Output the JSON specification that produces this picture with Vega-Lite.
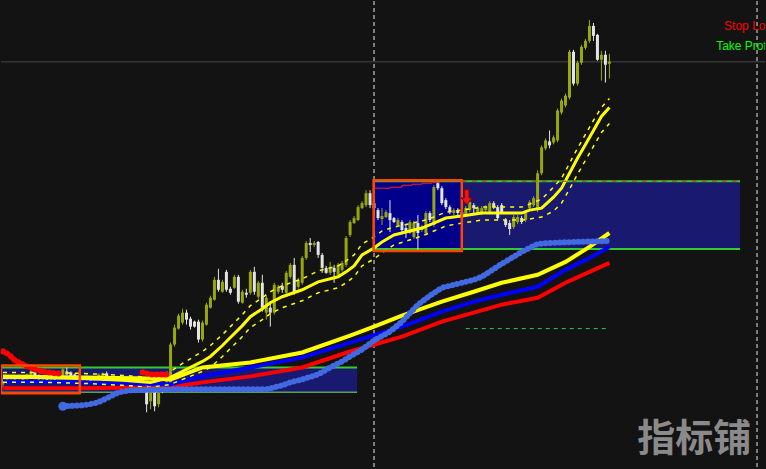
{
"$schema": "https://vega.github.io/schema/vega-lite/v6.json",
"width": 766, "height": 469,
"autosize": {"type": "fit", "contains": "padding"},
"padding": 0,
"background": "#131313",
"config": {"view": {"stroke": null}},
"datasets": {
"zones": [{"a":-0.5,"b":88.75,"lo":76,"hi":101},{"a":93,"b":184.75,"lo":220,"hi":288}],
"entry": [{"a":93,"b":115,"lo":220,"hi":288}],
"lv_upper": [{"a":-0.5,"b":88.75,"p":101},{"a":93,"b":184.75,"p":288},{"a":93,"b":184.75,"p":220}],
"lv_lower": [{"a":-0.5,"b":88.75,"p":76}],
"grayline": [{"p":408}],
"vlines": [{"i":93},{"i":189}],
"gdash": [{"a":116,"b":151.25,"p":140}],
"candles": [
{"i":0,"o":84,"h":91,"l":81,"c":89},{"i":1,"o":90,"h":91,"l":85,"c":86},{"i":2,"o":87,"h":92,"l":86,"c":91},{"i":3,"o":92,"h":93,"l":87,"c":88},{"i":4,"o":89,"h":94,"l":88,"c":93},{"i":5,"o":92,"h":93,"l":86,"c":87},{"i":6,"o":89,"h":95,"l":88,"c":94},{"i":7,"o":92,"h":99,"l":90,"c":97},{"i":8,"o":97,"h":99,"l":89,"c":91},{"i":9,"o":93,"h":94,"l":88,"c":89},
{"i":10,"o":88,"h":93,"l":87,"c":92},{"i":11,"o":91,"h":92,"l":86,"c":87},{"i":12,"o":88,"h":93,"l":87,"c":92},{"i":13,"o":93,"h":94,"l":88,"c":89},{"i":14,"o":90,"h":95,"l":89,"c":94},{"i":15,"o":93,"h":101,"l":91,"c":99},{"i":16,"o":97,"h":101,"l":93,"c":94},{"i":17,"o":96,"h":97,"l":90,"c":91},{"i":18,"o":94,"h":95,"l":89,"c":90},{"i":19,"o":89,"h":94,"l":88,"c":93},
{"i":20,"o":91,"h":92,"l":87,"c":88},{"i":21,"o":88,"h":93,"l":87,"c":92},{"i":22,"o":91,"h":92,"l":86,"c":87},{"i":23,"o":88,"h":92,"l":87,"c":91},{"i":24,"o":90,"h":95,"l":89,"c":94},{"i":25,"o":92,"h":96,"l":91,"c":95},{"i":26,"o":95,"h":97,"l":90,"c":91},{"i":27,"o":89,"h":90,"l":84,"c":85},{"i":28,"o":85,"h":89,"l":84,"c":88},{"i":29,"o":88,"h":89,"l":84,"c":85},
{"i":30,"o":85,"h":89,"l":84,"c":88},{"i":31,"o":89,"h":90,"l":85,"c":86},{"i":32,"o":88,"h":89,"l":84,"c":85},{"i":33,"o":85,"h":89,"l":84,"c":88},{"i":34,"o":89,"h":90,"l":84,"c":85},{"i":35,"o":85,"h":90,"l":84,"c":89},{"i":36,"o":84,"h":87,"l":56,"c":64},{"i":37,"o":67,"h":86,"l":59,"c":81},{"i":38,"o":84,"h":86,"l":57,"c":62},{"i":39,"o":64,"h":87,"l":61,"c":79},
{"i":40,"o":85,"h":86,"l":75,"c":77},{"i":41,"o":79,"h":88,"l":78,"c":87},{"i":42,"o":79,"h":126,"l":77,"c":124},{"i":43,"o":124,"h":144,"l":122,"c":141},{"i":44,"o":140,"h":155,"l":139,"c":153},{"i":45,"o":146,"h":160,"l":144,"c":156},{"i":46,"o":156,"h":159,"l":144,"c":149},{"i":47,"o":150,"h":152,"l":139,"c":142},{"i":48,"o":147,"h":148,"l":141,"c":142},{"i":49,"o":147,"h":149,"l":126,"c":129},
{"i":50,"o":129,"h":148,"l":127,"c":146},{"i":51,"o":144,"h":166,"l":143,"c":164},{"i":52,"o":161,"h":173,"l":160,"c":171},{"i":53,"o":169,"h":192,"l":168,"c":189},{"i":54,"o":189,"h":200,"l":177,"c":179},{"i":55,"o":177,"h":189,"l":176,"c":187},{"i":56,"o":197,"h":199,"l":177,"c":179},{"i":57,"o":180,"h":182,"l":174,"c":176},{"i":58,"o":181,"h":194,"l":180,"c":192},{"i":59,"o":192,"h":194,"l":165,"c":167},
{"i":60,"o":166,"h":179,"l":165,"c":177},{"i":61,"o":176,"h":180,"l":171,"c":174},{"i":62,"o":176,"h":199,"l":174,"c":197},{"i":63,"o":197,"h":202,"l":174,"c":177},{"i":64,"o":172,"h":188,"l":170,"c":186},{"i":65,"o":186,"h":194,"l":157,"c":161},{"i":66,"o":156,"h":173,"l":149,"c":171},{"i":67,"o":161,"h":167,"l":142,"c":156},{"i":68,"o":156,"h":186,"l":154,"c":184},{"i":69,"o":177,"h":184,"l":175,"c":182},
{"i":70,"o":183,"h":186,"l":176,"c":179},{"i":71,"o":176,"h":198,"l":174,"c":196},{"i":72,"o":192,"h":206,"l":190,"c":204},{"i":73,"o":204,"h":211,"l":174,"c":176},{"i":74,"o":182,"h":191,"l":180,"c":189},{"i":75,"o":186,"h":213,"l":184,"c":211},{"i":76,"o":211,"h":228,"l":209,"c":226},{"i":77,"o":226,"h":231,"l":217,"c":224},{"i":78,"o":224,"h":228,"l":222,"c":226},{"i":79,"o":227,"h":228,"l":211,"c":214},
{"i":80,"o":214,"h":216,"l":196,"c":201},{"i":81,"o":201,"h":203,"l":195,"c":196},{"i":82,"o":196,"h":207,"l":194,"c":201},{"i":83,"o":201,"h":204,"l":186,"c":197},{"i":84,"o":194,"h":206,"l":193,"c":204},{"i":85,"o":199,"h":208,"l":197,"c":206},{"i":86,"o":204,"h":233,"l":202,"c":231},{"i":87,"o":234,"h":249,"l":232,"c":247},{"i":88,"o":246,"h":253,"l":245,"c":251},{"i":89,"o":249,"h":264,"l":248,"c":262},
{"i":90,"o":261,"h":268,"l":260,"c":266},{"i":91,"o":264,"h":279,"l":262,"c":276},{"i":92,"o":276,"h":279,"l":261,"c":264},{"i":93,"o":266,"h":269,"l":252,"c":261},{"i":94,"o":259,"h":261,"l":249,"c":251},{"i":95,"o":250,"h":261,"l":244,"c":253},{"i":96,"o":252,"h":259,"l":251,"c":257},{"i":97,"o":256,"h":269,"l":237,"c":249},{"i":98,"o":251,"h":252,"l":246,"c":247},{"i":99,"o":244,"h":251,"l":243,"c":249},
{"i":100,"o":247,"h":249,"l":237,"c":239},{"i":101,"o":241,"h":244,"l":231,"c":236},{"i":102,"o":236,"h":249,"l":235,"c":247},{"i":103,"o":232,"h":248,"l":230,"c":246},{"i":104,"o":246,"h":254,"l":219,"c":236},{"i":105,"o":239,"h":244,"l":237,"c":242},{"i":106,"o":236,"h":258,"l":234,"c":256},{"i":107,"o":256,"h":258,"l":247,"c":249},{"i":108,"o":244,"h":284,"l":242,"c":282},{"i":109,"o":286,"h":288,"l":279,"c":281},
{"i":110,"o":281,"h":283,"l":264,"c":266},{"i":111,"o":269,"h":271,"l":260,"c":262},{"i":112,"o":262,"h":264,"l":255,"c":257},{"i":113,"o":256,"h":261,"l":254,"c":259},{"i":114,"o":259,"h":261,"l":254,"c":256},{"i":115,"o":257,"h":259,"l":252,"c":254},{"i":116,"o":254,"h":263,"l":252,"c":261},{"i":117,"o":259,"h":269,"l":257,"c":267},{"i":118,"o":264,"h":266,"l":256,"c":261},{"i":119,"o":256,"h":263,"l":254,"c":261},
{"i":120,"o":256,"h":263,"l":254,"c":261},{"i":121,"o":259,"h":264,"l":257,"c":262},{"i":122,"o":257,"h":268,"l":255,"c":266},{"i":123,"o":266,"h":268,"l":260,"c":262},{"i":124,"o":262,"h":264,"l":249,"c":251},{"i":125,"o":264,"h":266,"l":255,"c":257},{"i":126,"o":249,"h":251,"l":242,"c":244},{"i":127,"o":246,"h":249,"l":234,"c":240},{"i":128,"o":242,"h":254,"l":240,"c":252},{"i":129,"o":247,"h":254,"l":245,"c":252},
{"i":130,"o":251,"h":253,"l":245,"c":247},{"i":131,"o":249,"h":258,"l":247,"c":256},{"i":132,"o":261,"h":269,"l":259,"c":267},{"i":133,"o":264,"h":273,"l":262,"c":271},{"i":134,"o":259,"h":299,"l":257,"c":296},{"i":135,"o":296,"h":324,"l":294,"c":322},{"i":136,"o":321,"h":331,"l":319,"c":329},{"i":137,"o":328,"h":339,"l":321,"c":324},{"i":138,"o":327,"h":334,"l":325,"c":332},{"i":139,"o":329,"h":361,"l":327,"c":359},
{"i":140,"o":357,"h":371,"l":355,"c":369},{"i":141,"o":364,"h":376,"l":362,"c":374},{"i":142,"o":372,"h":420,"l":370,"c":418},{"i":143,"o":418,"h":420,"l":384,"c":386},{"i":144,"o":386,"h":409,"l":384,"c":407},{"i":145,"o":407,"h":425,"l":405,"c":423},{"i":146,"o":422,"h":431,"l":420,"c":429},{"i":147,"o":429,"h":450,"l":427,"c":444},{"i":148,"o":444,"h":447,"l":429,"c":434},{"i":149,"o":435,"h":436,"l":409,"c":410},
{"i":150,"o":410,"h":419,"l":389,"c":415},{"i":151,"o":415,"h":419,"l":387,"c":405},{"i":152,"o":406,"h":416,"l":391,"c":408}
],
"ma_red": [{"i":0,"p":80},{"i":20,"p":80},{"i":42,"p":81},{"i":50,"p":86},{"i":62,"p":92},{"i":75,"p":101},{"i":87,"p":117},{"i":100,"p":132},{"i":110,"p":147},{"i":118,"p":156},{"i":125,"p":164},{"i":134,"p":171},{"i":141,"p":186},{"i":147,"p":197},{"i":152,"p":206}],
"ma_blue": [{"i":0,"p":87},{"i":20,"p":86},{"i":42,"p":84},{"i":50,"p":92},{"i":62,"p":101},{"i":75,"p":111},{"i":87,"p":126},{"i":100,"p":142},{"i":110,"p":157},{"i":118,"p":167},{"i":125,"p":174},{"i":134,"p":182},{"i":141,"p":199},{"i":147,"p":211},{"i":152,"p":222}],
"ma_slow": [{"i":0,"p":92},{"i":20,"p":91},{"i":37,"p":90},{"i":42,"p":89},{"i":50,"p":101},{"i":62,"p":106},{"i":75,"p":116},{"i":87,"p":133},{"i":93,"p":142},{"i":100,"p":153},{"i":110,"p":167},{"i":118,"p":177},{"i":125,"p":186},{"i":134,"p":194},{"i":141,"p":207},{"i":147,"p":222},{"i":152,"p":236}],
"ma_fast": [{"i":0,"p":91},{"i":10,"p":91},{"i":20,"p":90},{"i":30,"p":88},{"i":37,"p":86},{"i":42,"p":91},{"i":45,"p":97},{"i":50,"p":107},{"i":52,"p":112},{"i":55,"p":123},{"i":57,"p":131},{"i":60,"p":143},{"i":62,"p":152},{"i":65,"p":160},{"i":67,"p":166},{"i":70,"p":172},{"i":75,"p":179},{"i":79,"p":187},{"i":84,"p":192},{"i":86,"p":197},{"i":88,"p":203},{"i":90,"p":214},{"i":93,"p":221},{"i":95,"p":227},{"i":98,"p":234},{"i":105,"p":241},{"i":108,"p":246},{"i":111,"p":251},{"i":115,"p":253},{"i":120,"p":256},{"i":125,"p":256},{"i":130,"p":256},{"i":132,"p":259},{"i":135,"p":261},{"i":138,"p":272},{"i":140,"p":281},{"i":142,"p":296},{"i":144,"p":311},{"i":146,"p":325},{"i":148,"p":339},{"i":150,"p":353},{"i":152,"p":362}],
"env_up": [{"i":0,"p":96},{"i":10,"p":96},{"i":20,"p":95},{"i":30,"p":93},{"i":37,"p":91},{"i":42,"p":97},{"i":45,"p":105},{"i":50,"p":117},{"i":52,"p":123},{"i":55,"p":134},{"i":57,"p":142},{"i":60,"p":154},{"i":62,"p":163},{"i":65,"p":171},{"i":67,"p":177},{"i":70,"p":183},{"i":75,"p":190},{"i":79,"p":198},{"i":84,"p":203},{"i":86,"p":208},{"i":88,"p":214},{"i":90,"p":225},{"i":93,"p":232},{"i":95,"p":238},{"i":98,"p":242},{"i":105,"p":248},{"i":108,"p":252},{"i":111,"p":257},{"i":115,"p":259},{"i":120,"p":262},{"i":125,"p":262},{"i":130,"p":262},{"i":132,"p":265},{"i":135,"p":270},{"i":138,"p":282},{"i":140,"p":291},{"i":142,"p":306},{"i":144,"p":321},{"i":146,"p":335},{"i":148,"p":349},{"i":150,"p":362},{"i":152,"p":371}],
"env_lo": [{"i":0,"p":86},{"i":10,"p":86},{"i":20,"p":85},{"i":30,"p":83},{"i":37,"p":81},{"i":42,"p":84},{"i":45,"p":89},{"i":50,"p":97},{"i":52,"p":101},{"i":55,"p":112},{"i":57,"p":120},{"i":60,"p":132},{"i":62,"p":141},{"i":65,"p":149},{"i":67,"p":155},{"i":70,"p":161},{"i":75,"p":168},{"i":79,"p":176},{"i":84,"p":181},{"i":86,"p":186},{"i":88,"p":192},{"i":90,"p":203},{"i":93,"p":210},{"i":95,"p":216},{"i":98,"p":224},{"i":105,"p":233},{"i":108,"p":238},{"i":111,"p":243},{"i":115,"p":246},{"i":120,"p":249},{"i":125,"p":249},{"i":130,"p":249},{"i":132,"p":250},{"i":135,"p":252},{"i":138,"p":258},{"i":140,"p":266},{"i":142,"p":280},{"i":144,"p":295},{"i":146,"p":309},{"i":148,"p":323},{"i":150,"p":337},{"i":152,"p":346}],
"dots_blue": [{"i":15,"p":62},{"i":20,"p":63},{"i":23,"p":65},{"i":25,"p":68},{"i":27,"p":72},{"i":29,"p":76},{"i":32,"p":78},{"i":42,"p":79},{"i":66,"p":79},{"i":70,"p":83},{"i":72,"p":86},{"i":75,"p":89},{"i":79,"p":94},{"i":82,"p":101},{"i":85,"p":107},{"i":87,"p":112},{"i":90,"p":119},{"i":93,"p":128},{"i":97,"p":137},{"i":100,"p":147},{"i":104,"p":164},{"i":107,"p":173},{"i":110,"p":181},{"i":114,"p":185},{"i":118,"p":189},{"i":120,"p":192},{"i":125,"p":205},{"i":130,"p":217},{"i":134,"p":225},{"i":137,"p":226},{"i":143,"p":227},{"i":152,"p":228}],
"dot_first": [{"i":15,"p":62}],
"dots_red": [{"g":1,"i":0,"p":117},{"g":1,"i":1,"p":115},{"g":1,"i":2,"p":112},{"g":1,"i":3,"p":108},{"g":1,"i":4,"p":106},{"g":1,"i":5,"p":104},{"g":1,"i":6,"p":102},{"g":1,"i":7,"p":101},{"g":1,"i":8,"p":99},{"g":1,"i":9,"p":98},{"g":1,"i":10,"p":97},{"g":1,"i":11,"p":96},{"g":1,"i":12,"p":96},{"g":1,"i":13,"p":95},{"g":1,"i":14,"p":95},{"g":2,"i":35,"p":96},{"g":2,"i":36,"p":95},{"g":2,"i":37,"p":94},{"g":2,"i":41,"p":94}],
"boxes": [{"a":-0.5,"b":19.25,"lo":75,"hi":103},{"a":92.9,"b":115,"lo":218,"hi":289}],
"stepline": [{"i":93.25,"p":281},{"i":97,"p":282},{"i":100,"p":284},{"i":102.5,"p":285},{"i":105,"p":286},{"i":107.5,"p":287},{"i":109.5,"p":287}],
"rdash": [{"a":115,"b":184.75,"p":288}],
"arrow": [{"i":116.25,"p":272}],
"sl": [{"i":180.75,"p":440,"t":"Stop Loss"}],
"tp": [{"i":178.75,"p":420,"t":"Take Profit"}],
"wm": [{"i":173.25,"p":28,"t":"指标铺"}]
},
"layer": [
{"data":{"name":"zones"},"mark":{"type":"rect","color":"#191970","clip":true},
 "encoding":{"x":{"field":"a","type":"quantitative","scale":{"domain":[-0.5,191],"nice":false,"zero":false,"padding":0},"axis":null},"x2":{"field":"b"},
 "y":{"field":"lo","type":"quantitative","scale":{"domain":[0,469],"nice":false,"zero":false,"padding":0},"axis":null},"y2":{"field":"hi"}}},
{"data":{"name":"entry"},"mark":{"type":"rect","color":"#00008b","clip":true},
 "encoding":{"x":{"field":"a","type":"quantitative"},"x2":{"field":"b"},"y":{"field":"lo","type":"quantitative"},"y2":{"field":"hi"}}},
{"data":{"name":"lv_upper"},"mark":{"type":"rule","strokeWidth":2,"color":"#32cd32","clip":true},
 "encoding":{"x":{"field":"a","type":"quantitative"},"x2":{"field":"b"},"y":{"field":"p","type":"quantitative"}}},
{"data":{"name":"lv_lower"},"mark":{"type":"rule","strokeWidth":1.5,"color":"#5a9f5a","clip":true},
 "encoding":{"x":{"field":"a","type":"quantitative"},"x2":{"field":"b"},"y":{"field":"p","type":"quantitative"}}},
{"data":{"name":"grayline"},"mark":{"type":"rule","color":"#363636","strokeWidth":1.5},"encoding":{"y":{"field":"p","type":"quantitative"}}},
{"data":{"name":"vlines"},"mark":{"type":"rule","color":"#e8e8e8","strokeWidth":1,"strokeDash":[4,3]},"encoding":{"x":{"field":"i","type":"quantitative"}}},
{"data":{"name":"gdash"},"mark":{"type":"rule","color":"#3cc83c","strokeWidth":1,"strokeDash":[4,4]},
 "encoding":{"x":{"field":"a","type":"quantitative"},"x2":{"field":"b"},"y":{"field":"p","type":"quantitative"}}},
{"data":{"name":"candles"},"mark":{"type":"rule","strokeWidth":1,"clip":true},
 "encoding":{"x":{"field":"i","type":"quantitative"},"y":{"field":"l","type":"quantitative"},"y2":{"field":"h"},
 "color":{"condition":{"test":"datum.c >= datum.o","value":"#98a70c"},"value":"#e4e4e4"}}},
{"data":{"name":"candles"},"mark":{"type":"bar","size":3,"clip":true},
 "encoding":{"x":{"field":"i","type":"quantitative"},"y":{"field":"o","type":"quantitative"},"y2":{"field":"c"},
 "color":{"condition":{"test":"datum.c >= datum.o","value":"#98a70c"},"value":"#e4e4e4"}}},
{"data":{"name":"ma_red"},"mark":{"type":"line","color":"#ff0000","strokeWidth":4,"clip":true},"encoding":{"x":{"field":"i","type":"quantitative"},"y":{"field":"p","type":"quantitative"}}},
{"data":{"name":"ma_blue"},"mark":{"type":"line","color":"#0000ff","strokeWidth":4,"clip":true},"encoding":{"x":{"field":"i","type":"quantitative"},"y":{"field":"p","type":"quantitative"}}},
{"data":{"name":"ma_slow"},"mark":{"type":"line","color":"#ffff00","strokeWidth":4,"clip":true},"encoding":{"x":{"field":"i","type":"quantitative"},"y":{"field":"p","type":"quantitative"}}},
{"data":{"name":"env_up"},"mark":{"type":"line","color":"#ffff00","strokeWidth":1.5,"strokeDash":[4,5],"clip":true},"encoding":{"x":{"field":"i","type":"quantitative"},"y":{"field":"p","type":"quantitative"}}},
{"data":{"name":"env_lo"},"mark":{"type":"line","color":"#ffff00","strokeWidth":1.5,"strokeDash":[4,5],"clip":true},"encoding":{"x":{"field":"i","type":"quantitative"},"y":{"field":"p","type":"quantitative"}}},
{"data":{"name":"ma_fast"},"mark":{"type":"line","color":"#ffff00","strokeWidth":3,"clip":true},"encoding":{"x":{"field":"i","type":"quantitative"},"y":{"field":"p","type":"quantitative"}}},
{"data":{"name":"dots_blue"},"mark":{"type":"line","color":"#4169e1","strokeWidth":6,"strokeCap":"round","strokeDash":[0.1,4.6],"clip":true},"encoding":{"x":{"field":"i","type":"quantitative"},"y":{"field":"p","type":"quantitative"}}},
{"data":{"name":"dot_first"},"mark":{"type":"point","filled":true,"color":"#4169e1","size":80,"opacity":1,"clip":true},"encoding":{"x":{"field":"i","type":"quantitative"},"y":{"field":"p","type":"quantitative"}}},
{"data":{"name":"dots_red"},"mark":{"type":"line","color":"#ff0000","strokeWidth":6,"strokeCap":"round","strokeDash":[0.1,4.6],"clip":true},"encoding":{"x":{"field":"i","type":"quantitative"},"y":{"field":"p","type":"quantitative"},"detail":{"field":"g","type":"nominal"}}},
{"data":{"name":"boxes"},"mark":{"type":"rect","fillOpacity":0,"fill":"#000000","stroke":"#ff4500","strokeWidth":2.5,"clip":true},
 "encoding":{"x":{"field":"a","type":"quantitative"},"x2":{"field":"b"},"y":{"field":"lo","type":"quantitative"},"y2":{"field":"hi"}}},
{"data":{"name":"stepline"},"mark":{"type":"line","color":"#ff2020","strokeWidth":1,"interpolate":"step-after","clip":true},"encoding":{"x":{"field":"i","type":"quantitative"},"y":{"field":"p","type":"quantitative"}}},
{"data":{"name":"rdash"},"mark":{"type":"rule","color":"#d22020","strokeWidth":1,"strokeDash":[5,5]},
 "encoding":{"x":{"field":"a","type":"quantitative"},"x2":{"field":"b"},"y":{"field":"p","type":"quantitative"}}},
{"data":{"name":"arrow"},"mark":{"type":"point","shape":"M -0.3 -1 L 0.3 -1 L 0.3 0.1 L 0.75 0.1 L 0 1 L -0.75 0.1 L -0.3 0.1 Z","filled":true,"fill":"#e8141e","stroke":"#8b0000","strokeWidth":1,"size":225,"opacity":1},
 "encoding":{"x":{"field":"i","type":"quantitative"},"y":{"field":"p","type":"quantitative"}}},
{"data":{"name":"sl"},"mark":{"type":"text","align":"left","baseline":"alphabetic","font":"Liberation Sans","fontSize":12,"color":"#ff0000","clip":true},
 "encoding":{"x":{"field":"i","type":"quantitative"},"y":{"field":"p","type":"quantitative"},"text":{"field":"t"}}},
{"data":{"name":"tp"},"mark":{"type":"text","align":"left","baseline":"alphabetic","font":"Liberation Sans","fontSize":12,"color":"#00ff00","clip":true},
 "encoding":{"x":{"field":"i","type":"quantitative"},"y":{"field":"p","type":"quantitative"},"text":{"field":"t"}}},
{"data":{"name":"wm"},"mark":{"type":"text","align":"center","baseline":"middle","font":"Noto Sans CJK SC","fontWeight":"bold","fontSize":38,"color":"#8a8a8a","clip":true},
 "encoding":{"x":{"field":"i","type":"quantitative"},"y":{"field":"p","type":"quantitative"},"text":{"field":"t"}}}
]
}
